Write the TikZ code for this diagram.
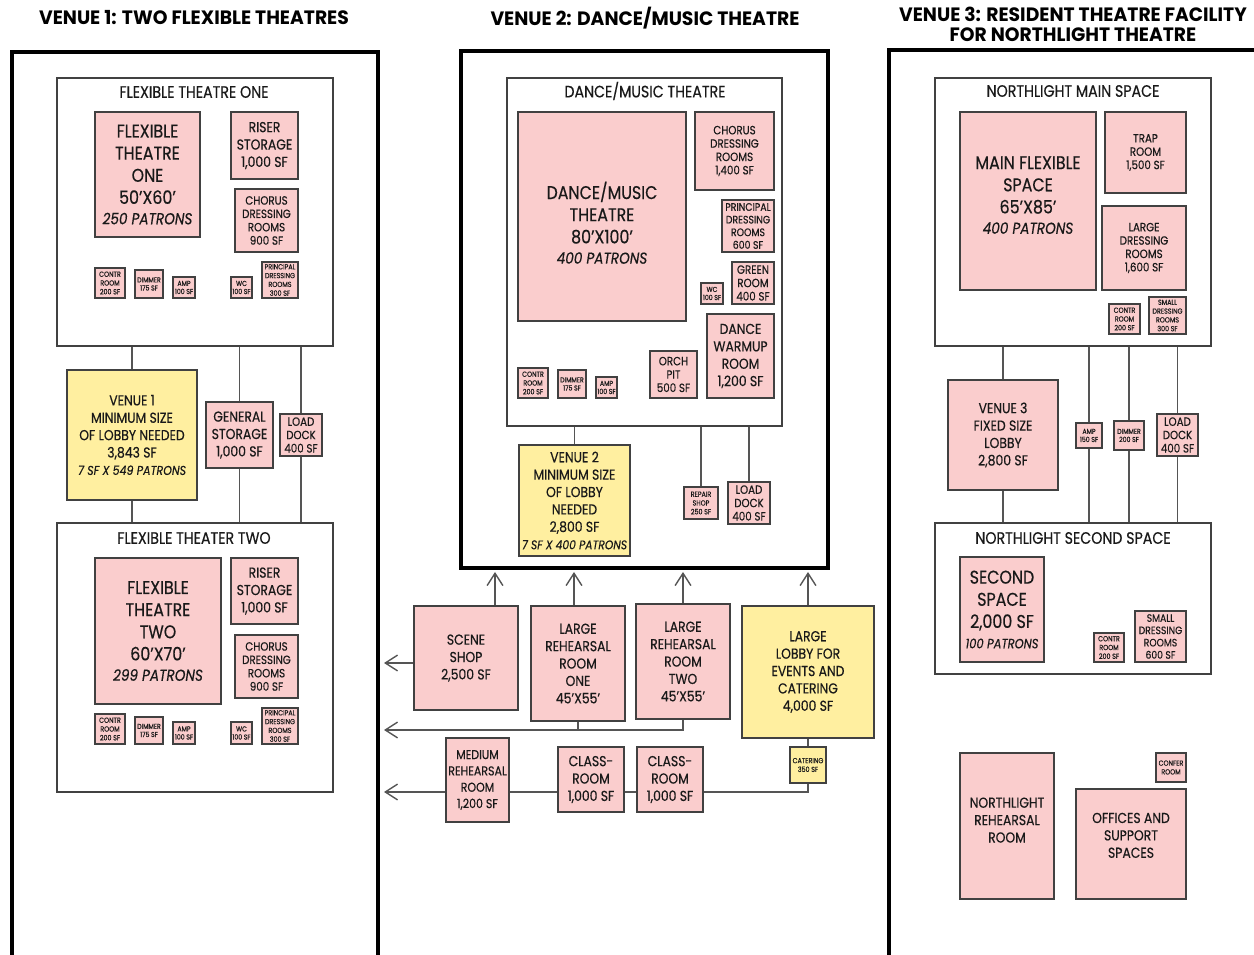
\documentclass[tikz,border=0pt]{standalone}
\usepackage{fontspec}
\setmainfont{Poppins}[FakeStretch=0.86, FakeBold=0.4]
\newfontfamily\headfont{Poppins}[FakeStretch=0.97]
\usepackage{tikz}
\usetikzlibrary{arrows.meta,positioning}
\definecolor{roompink}{RGB}{250,205,205}
\definecolor{lobbyyellow}{RGB}{255,239,160}
\definecolor{edgegray}{RGB}{65,65,65}
\definecolor{linkgray}{RGB}{85,85,85}
\definecolor{ink}{RGB}{25,25,25}
\newcommand\fbig{\fontsize{10.5}{12.6}\selectfont}
\newcommand\fbigit{\fontsize{9}{10.5}\selectfont\itshape}
\newcommand\fmid{\fontsize{8.2}{9.9}\selectfont}
\newcommand\fsm{\fontsize{6.8}{7.6}\selectfont}
\newcommand\ftiny{\fontsize{4.2}{5}\selectfont}
\newcommand\fmicro{\fontsize{4.1}{4.6}\selectfont}
\tikzset{room/.style={draw=edgegray, fill=roompink, line width=0.7pt, inner sep=0pt, align=center, text=ink},
         lobby/.style={room, fill=lobbyyellow},
         zone/.style={draw=edgegray, fill=white, line width=0.6pt, inner sep=0pt},
         zonelab/.style={font=\fontsize{9.4}{10}\selectfont, text=ink},
         venue/.style={draw=black, line width=1.8pt, inner sep=0pt},
         venuetitle/.style={font=\headfont\fontsize{11}{11.4}\selectfont\bfseries, align=center, text=black},
         link/.style={draw=linkgray, line width=0.8pt},
         flow/.style={link, -{Straight Barb[length=7pt,width=9pt]}},
         sz/.style 2 args={minimum width=#1*0.02cm, minimum height=#2*0.02cm}
}
\begin{document}
\begin{tikzpicture}[x=0.02cm, y=-0.02cm]
      \useasboundingbox (0,0) rectangle (1254,955);
      \clip (0,0) rectangle (1254,955);
      \node[venuetitle] (t1) at (194,18) {VENUE 1: TWO FLEXIBLE THEATRES};
      \node[venuetitle] (t2) at (645,18) {VENUE 2: DANCE/MUSIC THEATRE};
      \node[venuetitle] (t3) at (1073,24) {VENUE 3: RESIDENT THEATRE FACILITY\\FOR NORTHLIGHT THEATRE};
      \node[venue, sz={366}{958}] (v1) at (195,531) {};
      \node[venue, sz={367}{517}] (v2) at (644.5,309.5) {};
      \node[venue, sz={411}{960}] (v3) at (1094.5,530) {};

      \node[zone, sz={276}{268}] (ft1) at (195,212) {};
      \node[zonelab] (ft1lab) at (194,92) {FLEXIBLE THEATRE ONE};
      \node[room, sz={105}{125}, font=\fbig] (ft1big) at (147.5,174.5) {FLEXIBLE\\THEATRE\\ONE\\50'X60'\\[-1pt]{\fbigit 250 PATRONS}};
      \node[room, sz={67}{67}, font=\fmid] (ft1riser) at (264.5,145.5) {RISER\\STORAGE\\1,000 SF};
      \node[room, sz={63}{63}, font=\fsm] (ft1chorus) at (266.5,220.5) {CHORUS\\DRESSING\\ROOMS\\900 SF};
      \node[room, sz={30}{30}, font=\ftiny] (ft1contr) at (110,283) {CONTR\\ROOM\\200 SF};
      \node[room, sz={28}{28}, font=\fmicro] (ft1dim) at (149,284) {DIMMER\\175 SF};
      \node[room, sz={22}{21}, font=\fmicro] (ft1amp) at (184,287.5) {AMP\\100 SF};
      \node[room, sz={21}{21}, font=\fmicro] (ft1wc) at (241.5,287.5) {WC\\100 SF};
      \node[room, sz={36}{36}, font=\ftiny] (ft1prin) at (280,280) {PRINCIPAL\\DRESSING\\ROOMS\\300 SF};

      \node[lobby, sz={130}{130}, font=\fmid] (v1lobby) at (132,435) {VENUE 1\\MINIMUM SIZE\\OF LOBBY NEEDED\\3,843 SF\\{\fontsize{7.3}{9}\selectfont\itshape 7 SF X 549 PATRONS}};
      \node[room, sz={67}{66}, font=\fmid] (v1store) at (239.5,435) {GENERAL\\STORAGE\\1,000 SF};
      \node[room, sz={42}{42}, font=\fsm] (v1dock) at (301,435) {LOAD\\DOCK\\400 SF};

      \node[zone, sz={276}{269}] (ft2) at (195,657.5) {};
      \node[zonelab] (ft2lab) at (194,538) {FLEXIBLE THEATER TWO};
      \node[room, sz={126}{146}, font=\fbig] (ft2big) at (158,631) {FLEXIBLE\\THEATRE\\TWO\\60'X70'\\[-1pt]{\fbigit 299 PATRONS}};
      \node[room, sz={67}{66}, font=\fmid] (ft2riser) at (264.5,591) {RISER\\STORAGE\\1,000 SF};
      \node[room, sz={63}{63}, font=\fsm] (ft2chorus) at (266.5,666.5) {CHORUS\\DRESSING\\ROOMS\\900 SF};
      \node[room, sz={30}{30}, font=\ftiny] (ft2contr) at (110,729) {CONTR\\ROOM\\200 SF};
      \node[room, sz={28}{27}, font=\fmicro] (ft2dim) at (149,730.5) {DIMMER\\175 SF};
      \node[room, sz={22}{22}, font=\fmicro] (ft2amp) at (184,733) {AMP\\100 SF};
      \node[room, sz={21}{22}, font=\fmicro] (ft2wc) at (241.5,733) {WC\\100 SF};
      \node[room, sz={36}{36}, font=\ftiny] (ft2prin) at (280,726) {PRINCIPAL\\DRESSING\\ROOMS\\300 SF};

      \node[zone, sz={275}{348}] (dm) at (644.5,252) {};
      \node[zonelab] (dmlab) at (645,91) {DANCE/MUSIC THEATRE};
      \node[room, sz={168}{209}, font=\fbig] (dmbig) at (602,216.5) {\rule{0pt}{17pt}DANCE/MUSIC\\THEATRE\\80'X100'\\[-1pt]{\fbigit 400 PATRONS}};
      \node[room, sz={79}{78}, font=\fsm] (dmchorus) at (734.5,151) {CHORUS\\DRESSING\\ROOMS\\1,400 SF};
      \node[room, sz={52}{52}, font=\fontsize{6.2}{7.2}\selectfont] (dmprin) at (748,226) {PRINCIPAL\\DRESSING\\ROOMS\\600 SF};
      \node[room, sz={42}{42}, font=\fsm] (dmgreen) at (753,283) {GREEN\\ROOM\\400 SF};
      \node[room, sz={22}{21}, font=\fmicro] (dmwc) at (712,293.5) {WC\\100 SF};
      \node[room, sz={67}{84}, font=\fmid] (dmwarm) at (740.5,356) {DANCE\\WARMUP\\ROOM\\1,200 SF};
      \node[room, sz={47}{47}, font=\fsm] (dmorch) at (673.5,374.5) {ORCH\\PIT\\500 SF};
      \node[room, sz={30}{30}, font=\ftiny] (dmcontr) at (533,383) {CONTR\\ROOM\\200 SF};
      \node[room, sz={28}{28}, font=\fmicro] (dmdim) at (572,384) {DIMMER\\175 SF};
      \node[room, sz={21}{21}, font=\fmicro] (dmamp) at (606.5,387.5) {AMP\\100 SF};

      \node[lobby, sz={111}{111}, font=\fmid] (v2lobby) at (574.5,500.5) {VENUE 2\\MINIMUM SIZE\\OF LOBBY\\NEEDED\\2,800 SF\\{\fontsize{7.1}{9}\selectfont\itshape 7 SF X 400 PATRONS}};
      \node[room, sz={34}{32}, font=\ftiny] (v2repair) at (701,503) {REPAIR\\SHOP\\250 SF};
      \node[room, sz={42}{42}, font=\fsm] (v2dock) at (749,503) {LOAD\\DOCK\\400 SF};

      \node[room, sz={104}{104}, font=\fmid] (scene) at (466,658) {SCENE\\SHOP\\2,500 SF};
      \node[room, sz={94}{115}, font=\fmid] (lr1) at (578,663.5) {LARGE\\REHEARSAL\\ROOM\\ONE\\45'X55'};
      \node[room, sz={94}{115}, font=\fmid] (lr2) at (683,661.5) {LARGE\\REHEARSAL\\ROOM\\TWO\\45'X55'};
      \node[lobby, sz={132}{132}, font=\fmid] (biglobby) at (808,672) {LARGE\\LOBBY FOR\\EVENTS AND\\CATERING\\4,000 SF};
      \node[lobby, sz={36}{36}, font=\ftiny] (cater) at (808,765) {CATERING\\350 SF};
      \node[room, sz={63}{84}, font=\fontsize{7.3}{9.3}\selectfont] (medium) at (477.5,780) {MEDIUM\\REHEARSAL\\ROOM\\1,200 SF};
      \node[room, sz={66}{65}, font=\fmid] (class1) at (591,779.5) {CLASS-\\ROOM\\1,000 SF};
      \node[room, sz={66}{65}, font=\fmid] (class2) at (670,779.5) {CLASS-\\ROOM\\1,000 SF};
      \coordinate (a1) at (495,572);
      \coordinate (a2) at (574,572);
      \coordinate (a3) at (683,572);
      \coordinate (a4) at (808,572);
      \coordinate (r1) at (384,663);
      \coordinate (r2) at (384,730);
      \coordinate (r3) at (384,792);

      \node[zone, sz={276}{268}] (nlm) at (1073,212) {};
      \node[zonelab] (nlmlab) at (1073,91) {NORTHLIGHT MAIN SPACE};
      \node[room, sz={136}{178}, font=\fbig] (nlmain) at (1028,201) {MAIN FLEXIBLE\\SPACE\\65'X85'\\[-1pt]{\fbigit 400 PATRONS}\\[-5.8pt]};
      \node[room, sz={81}{81}, font=\fsm] (nltrap) at (1145.5,152.5) {TRAP\\ROOM\\1,500 SF};
      \node[room, sz={84}{84}, font=\fsm] (nlldr) at (1144,248) {LARGE\\DRESSING\\ROOMS\\1,600 SF};
      \node[room, sz={31}{30}, font=\ftiny] (nlcontr) at (1124.5,319) {CONTR\\ROOM\\200 SF};
      \node[room, sz={37}{37}, font=\ftiny] (nlsdr) at (1167.5,315.5) {SMALL\\DRESSING\\ROOMS\\300 SF};

      \node[room, sz={110}{110}, font=\fmid] (v3lobby) at (1003,435) {VENUE 3\\FIXED SIZE\\LOBBY\\2,800 SF};
      \node[room, sz={26}{25}, font=\fmicro] (v3amp) at (1089,435.5) {AMP\\150 SF};
      \node[room, sz={30}{29}, font=\fmicro] (v3dim) at (1129,435.5) {DIMMER\\200 SF};
      \node[room, sz={41}{42}, font=\fsm] (v3dock) at (1177.5,435) {LOAD\\DOCK\\400 SF};

      \node[zone, sz={276}{151}] (nls) at (1073,598.5) {};
      \node[zonelab] (nlslab) at (1073,538) {NORTHLIGHT SECOND SPACE};
      \node[room, sz={84}{105}, font=\fbig] (nlsec) at (1002,609.5) {SECOND\\SPACE\\2,000 SF\\[-1pt]{\fontsize{7.6}{9}\selectfont\itshape 100 PATRONS}};
      \node[room, sz={30}{29}, font=\ftiny] (nlscontr) at (1109,647.5) {CONTR\\ROOM\\200 SF};
      \node[room, sz={51}{51}, font=\fontsize{6.1}{7}\selectfont] (nlssdr) at (1160.5,636.5) {SMALL\\DRESSING\\ROOMS\\600 SF};

      \node[room, sz={94}{146}, font=\fmid] (nlreh) at (1007,826) {NORTHLIGHT\\REHEARSAL\\ROOM\\[-3.1pt]};
      \node[room, sz={110}{110}, font=\fmid] (nloff) at (1131,844) {OFFICES AND\\SUPPORT\\SPACES\\};
      \node[room, sz={30}{29}, font=\ftiny] (nlconf) at (1171,767.5) {CONFER\\ROOM};

      \draw[link] (ft1.south -| v1lobby) -- (v1lobby.north);
      \draw[link] (v1lobby.south) -- (ft2.north -| v1lobby);
      \draw[link] (ft1.south -| v1store) -- (v1store.north);
      \draw[link] (v1store.south) -- (ft2.north -| v1store);
      \draw[link] (ft1.south -| v1dock) -- (v1dock.north);
      \draw[link] (v1dock.south) -- (ft2.north -| v1dock);

      \draw[link] (dm.south -| v2lobby) -- (v2lobby.north);
      \draw[link] (dm.south -| v2repair) -- (v2repair.north);
      \draw[link] (dm.south -| v2dock) -- (v2dock.north);
      \draw[flow] (scene.north -| a1) -- (a1);
      \draw[flow] (lr1.north -| a2) -- (a2);
      \draw[flow] (lr2.north) -- (a3);
      \draw[flow] (biglobby.north) -- (a4);
      \draw[flow] (scene.west |- r1) -- (r1);
      \draw[link] (lr1.south) -- (lr1.south |- r2);
      \draw[flow] (lr2.south) -- (lr2.south |- r2) -- (r2);
      \draw[link] (biglobby.south) -- (cater.north);
      \draw[link] (cater.south) -- (cater.south |- r3) -- (class2.east |- r3);
      \draw[link] (class2.west |- r3) -- (class1.east |- r3);
      \draw[link] (class1.west |- r3) -- (medium.east |- r3);
      \draw[flow] (medium.west |- r3) -- (r3);

      \draw[link] (nlm.south -| v3lobby) -- (v3lobby.north);
      \draw[link] (v3lobby.south) -- (nls.north -| v3lobby);
      \draw[link] (nlm.south -| v3amp) -- (v3amp.north);
      \draw[link] (v3amp.south) -- (nls.north -| v3amp);
      \draw[link] (nlm.south -| v3dim) -- (v3dim.north);
      \draw[link] (v3dim.south) -- (nls.north -| v3dim);
      \draw[link] (nlm.south -| v3dock) -- (v3dock.north);
      \draw[link] (v3dock.south) -- (nls.north -| v3dock);
    \end{tikzpicture}
\end{document}
